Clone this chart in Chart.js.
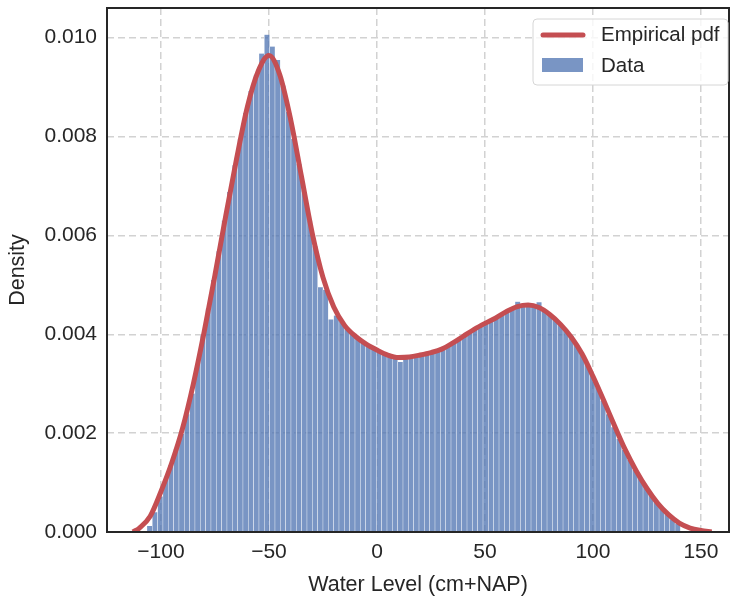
<!DOCTYPE html>
<html>
<head>
<meta charset="utf-8">
<script src="https://cdn.jsdelivr.net/npm/chart.js@4.4.1/dist/chart.umd.min.js"></script>
<style>
  html, body { margin: 0; padding: 0; background: #ffffff; }
  canvas { display: block; }
</style>
</head>
<body>
<canvas id="chart" width="731" height="602"></canvas>
<script>
// Histogram of water levels: 100 equal-width bins starting at binStart
const binStart = -106.5;
const binWidth = 2.47;
const density = [
  0.00012, 0.00040, 0.00072, 0.00105, 0.00135, 0.00168, 0.00198, 0.00238, 0.00280, 0.00340,
  0.00398, 0.00452, 0.00510, 0.00568, 0.00630, 0.00688, 0.00742, 0.00795, 0.00848, 0.00892,
  0.00925, 0.00968, 0.01006, 0.00982, 0.00955, 0.00903, 0.00850, 0.00795, 0.00745, 0.00688,
  0.00630, 0.00578, 0.00495, 0.00490, 0.00430, 0.00438, 0.00425, 0.00410, 0.00400, 0.00392,
  0.00384, 0.00377, 0.00372, 0.00366, 0.00361, 0.00356, 0.00354, 0.00344, 0.00352, 0.00354,
  0.00356, 0.00358, 0.00361, 0.00363, 0.00367, 0.00371, 0.00377, 0.00383, 0.00390, 0.00398,
  0.00405, 0.00412, 0.00417, 0.00421, 0.00427, 0.00434, 0.00440, 0.00446, 0.00452, 0.00466,
  0.00458, 0.00459, 0.00457, 0.00465, 0.00448, 0.00440, 0.00430, 0.00420, 0.00408, 0.00396,
  0.00378, 0.00360, 0.00340, 0.00318, 0.00293, 0.00265, 0.00238, 0.00212, 0.00188, 0.00166,
  0.00146, 0.00126, 0.00108, 0.00092, 0.00076, 0.00062, 0.00048, 0.00036, 0.00026, 0.00017
];

// Empirical probability density (kernel estimate) sampled along the level axis
const pdfLevel = [
  -113, -110, -105, -100, -95, -90, -85, -80, -75, -70, -65, -60, -55, -50, -45, -40, -35, -30,
  -25, -20, -15, -10, -5, 0, 5, 10, 15, 20, 25, 30, 35, 40, 45, 50, 55, 60, 65, 70, 75, 80,
  85, 90, 95, 100, 105, 110, 115, 120, 125, 130, 135, 140, 145, 150, 155
];
const pdfDensity = [
  0, 0.00008, 0.00032, 0.00082, 0.00140, 0.00210, 0.00300, 0.00405, 0.00520, 0.00640,
  0.00755, 0.00860, 0.00932, 0.00964, 0.00925, 0.00835, 0.00720, 0.00605,
  0.00515, 0.00455, 0.00418, 0.00396, 0.00380, 0.00368, 0.00358, 0.00353, 0.00354, 0.00358,
  0.00363, 0.00370, 0.00382, 0.00396, 0.00410, 0.00422, 0.00433, 0.00446, 0.00456, 0.00459,
  0.00454, 0.00440, 0.00420, 0.00394, 0.00360, 0.00315, 0.00266, 0.00215, 0.00166, 0.00124,
  0.00088, 0.00058, 0.00035, 0.00018, 0.00008, 0.00003, 0
];

const xTicks = [-100, -50, 0, 50, 100, 150];
const yTicks = [0, 0.002, 0.004, 0.006, 0.008, 0.010];
const xRange = [-125, 163];
const yRange = [0, 0.0106];

const FONT = '"Liberation Sans", Arial, Helvetica, sans-serif';
const TEXT = '#262626';
const BAR_FILL = 'rgba(76, 114, 176, 0.75)';
const LINE_RED = '#c44e52';

const barPoints = density.map((d, i) => ({ x: binStart + binWidth * (i + 0.5), y: d }));
const pdfPoints = pdfLevel.map((x, i) => ({ x: x, y: pdfDensity[i] }));

// Dark frame round the plotting area
const frame = {
  id: 'frame',
  afterDatasetsDraw(chart) {
    const { ctx, chartArea: a } = chart;
    ctx.save();
    ctx.strokeStyle = '#262626';
    ctx.lineWidth = 2;
    ctx.strokeRect(a.left, a.top, a.right - a.left, a.bottom - a.top);
    ctx.restore();
  }
};

// Legend box in the upper-right corner of the plotting area
const cornerLegend = {
  id: 'cornerLegend',
  afterDraw(chart) {
    const { ctx, chartArea: a } = chart;
    const w = 195, h = 66;
    const left = a.right - 1 - w;
    const top = a.top + 11;
    const r = 4;
    ctx.save();
    ctx.beginPath();
    ctx.moveTo(left + r, top);
    ctx.lineTo(left + w - r, top);
    ctx.arcTo(left + w, top, left + w, top + r, r);
    ctx.lineTo(left + w, top + h - r);
    ctx.arcTo(left + w, top + h, left + w - r, top + h, r);
    ctx.lineTo(left + r, top + h);
    ctx.arcTo(left, top + h, left, top + h - r, r);
    ctx.lineTo(left, top + r);
    ctx.arcTo(left, top, left + r, top, r);
    ctx.closePath();
    ctx.fillStyle = 'rgba(255,255,255,0.8)';
    ctx.fill();
    ctx.strokeStyle = '#d6d6d6';
    ctx.lineWidth = 1;
    ctx.stroke();

    const items = chart.data.datasets;
    // line sample
    ctx.strokeStyle = items[0].borderColor;
    ctx.lineWidth = 5;
    ctx.lineCap = 'round';
    ctx.beginPath();
    ctx.moveTo(left + 10, top + 16);
    ctx.lineTo(left + 50, top + 16);
    ctx.stroke();
    // patch sample
    ctx.fillStyle = items[1].backgroundColor;
    ctx.fillRect(left + 9, top + 39, 41, 14);

    ctx.fillStyle = TEXT;
    ctx.font = '20.5px ' + FONT;
    ctx.textBaseline = 'middle';
    ctx.textAlign = 'left';
    ctx.fillText(items[0].label, left + 68, top + 16);
    ctx.fillText(items[1].label, left + 68, top + 47);
    ctx.restore();
  }
};

const minusSign = (v) => (v < 0 ? '\u2212' + Math.abs(v) : String(v));

new Chart(document.getElementById('chart'), {
  type: 'bar',
  data: {
    datasets: [
      {
        type: 'line',
        label: 'Empirical pdf',
        data: pdfPoints,
        borderColor: LINE_RED,
        borderWidth: 5,
        pointRadius: 0,
        cubicInterpolationMode: 'monotone',
        fill: false,
        order: 0
      },
      {
        type: 'bar',
        label: 'Data',
        data: barPoints,
        backgroundColor: BAR_FILL,
        borderColor: 'rgba(255,255,255,0.85)',
        borderWidth: { left: 0.5, right: 0.5, top: 0, bottom: 0 },
        borderSkipped: false,
        barPercentage: 1,
        categoryPercentage: 1,
        order: 1
      }
    ]
  },
  options: {
    responsive: false,
    animation: false,
    devicePixelRatio: 1,
    layout: { padding: { left: 0, right: 2, top: 8, bottom: 0 } },
    plugins: {
      legend: { display: false },
      tooltip: { enabled: false }
    },
    scales: {
      x: {
        type: 'linear',
        min: xRange[0],
        max: xRange[1],
        offset: false,
        grid: { color: '#d2d2d2', lineWidth: 1.5, drawTicks: false, offset: false },
        border: { display: false, dash: [7, 4] },
        afterBuildTicks: (s) => { s.ticks = xTicks.map((v) => ({ value: v })); },
        afterFit: (s) => { s.height = 70; s.paddingLeft = 0; s.paddingRight = 0; },
        ticks: {
          padding: 8,
          color: TEXT,
          font: { family: FONT, size: 21 },
          maxRotation: 0,
          callback: minusSign
        },
        title: {
          display: true,
          text: 'Water Level (cm+NAP)',
          color: TEXT,
          font: { family: FONT, size: 21.5 },
          padding: { top: 0, bottom: 4 }
        }
      },
      y: {
        type: 'linear',
        min: yRange[0],
        max: yRange[1],
        grid: { color: '#d2d2d2', lineWidth: 1.5, drawTicks: false },
        border: { display: false, dash: [7, 4] },
        afterBuildTicks: (s) => { s.ticks = yTicks.map((v) => ({ value: v })); },
        afterFit: (s) => { s.width = 107; s.paddingTop = 0; s.paddingBottom = 0; },
        ticks: {
          padding: 10,
          color: TEXT,
          font: { family: FONT, size: 21 },
          callback: (v) => v.toFixed(3)
        },
        title: {
          display: true,
          text: 'Density',
          color: TEXT,
          font: { family: FONT, size: 21.5 },
          padding: { top: 5, bottom: 0 }
        }
      }
    }
  },
  plugins: [frame, cornerLegend]
});
</script>
</body>
</html>
